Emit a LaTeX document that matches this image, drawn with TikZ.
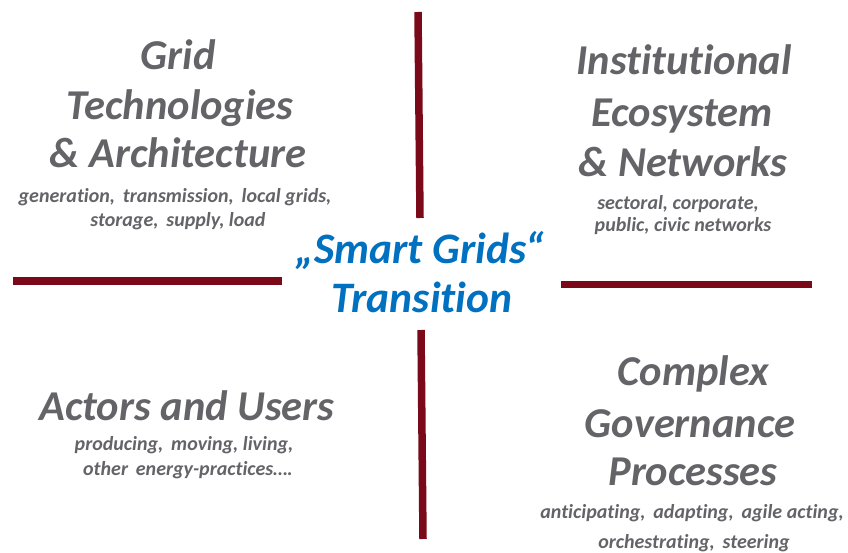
\documentclass[tikz,border=0pt]{standalone}
\usepackage{fontspec}
\setmainfont{Carlito}[Ligatures=NoCommon]
\definecolor{axisred}{HTML}{7A0A19}
\definecolor{headgrey}{HTML}{646368}
\definecolor{centreblue}{HTML}{0070C0}
\begin{document}
\begin{tikzpicture}[x=1pt,y=-1pt,
  heading/.style={anchor=base,inner sep=0pt,text=headgrey,font=\fontsize{42.5}{46}\selectfont\bfseries\itshape},
  detail/.style={anchor=base,inner sep=0pt,text=headgrey,font=\fontsize{20}{23}\selectfont\bfseries\itshape},
  centre/.style={anchor=base,inner sep=0pt,text=centreblue,font=\fontsize{43.5}{47}\selectfont\bfseries\itshape},
  axis/.style={draw=axisred,line width=7.5pt}]
\useasboundingbox (0,0) rectangle (848,553);

% quadrant dividers
\coordinate (topA) at (418,12);
\coordinate (topB) at (420,218);
\coordinate (botA) at (421,330);
\coordinate (botB) at (423,539);
\coordinate (leftA) at (13,281);
\coordinate (leftB) at (282,281);
\coordinate (rightA) at (561,284.5);
\coordinate (rightB) at (812,284.5);
\draw[axis] (topA) -- (topB);
\draw[axis] (botA) -- (botB);
\draw[axis] (leftA) -- (leftB);
\draw[axis] (rightA) -- (rightB);

% centre
\node[centre] (c1) at (420,263) {„Smart Grids“};
\node[centre] (c2) at (422,312) {Transition};

% upper left
\node[heading] (g1) at (178,70) {Grid};
\node[heading] (g2) at (180,120) {Technologies};
\node[heading] (g3) at (178,168) {\& Architecture};
\node[detail] (g4) at (175,203) {generation,\, transmission,\, local grids,};
\node[detail] (g5) at (178,227) {storage,\, supply, load};

% upper right
\node[heading] (i1) at (684,75) {Institutional};
\node[heading] (i2) at (682,127) {Ecosystem};
\node[heading] (i3) at (683,177) {\& Networks};
\node[detail] (i4) at (678,210) {sectoral, corporate,};
\node[detail] (i5) at (683,232) {public, civic networks};

% lower left
\node[heading] (a1) at (187,420) {Actors and Users};
\node[detail] (a2) at (184,450) {producing,\, moving, living,};
\node[detail] (a3) at (188,475) {other\, energy-practices….};

% lower right
\node[heading] (p1) at (693,385) {Complex};
\node[heading] (p2) at (690,437) {Governance};
\node[heading] (p3) at (693,485) {Processes};
\node[detail] (p4) at (692,518) {anticipating,\, adapting,\, agile acting,};
\node[detail] (p5) at (694,548) {orchestrating,\, steering};
\end{tikzpicture}
\end{document}
